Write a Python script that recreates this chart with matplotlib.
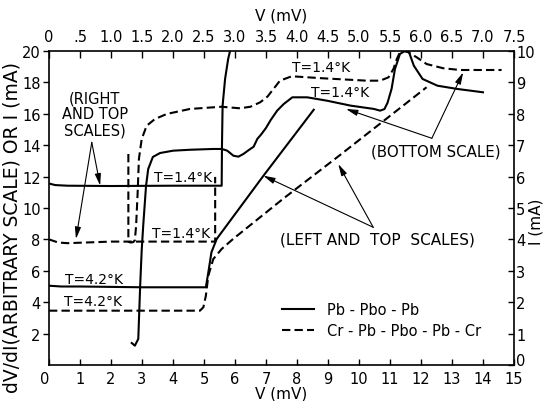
import matplotlib.pyplot as plt
from matplotlib.lines import Line2D

# dV/dI curves at T=1.4 K  (bottom scale, mV  /  left scale, arbitrary)
pb_v = [2.67, 2.77, 2.88, 2.94, 2.99, 3.04, 3.13, 3.20, 3.35, 3.58, 4.00,
        4.55, 5.30, 5.58, 5.75, 5.95, 6.11, 6.27, 6.45, 6.60, 6.72, 6.85,
        7.00, 7.15, 7.36, 7.57, 7.85, 8.33, 8.98, 9.73, 10.48, 10.68, 10.82,
        10.92, 11.05, 11.16, 11.32, 11.48, 11.61, 11.77, 12.05, 12.53, 13.18,
        14.0]
pb_dvdi = [1.40, 1.23, 1.66, 5.0, 7.3, 8.9, 11.4, 12.48, 13.25, 13.5, 13.65,
           13.71, 13.76, 13.76, 13.65, 13.33, 13.27, 13.44, 13.7, 13.9, 14.4,
           14.7, 15.1, 15.6, 16.2, 16.62, 17.05, 17.05, 16.83, 16.52, 16.31,
           16.20, 16.3, 16.7, 17.58, 18.85, 19.81, 20.0, 19.94, 19.06, 18.22,
           17.79, 17.58, 17.37]

cr_v = [2.56, 2.56, 2.64, 2.72, 2.77, 2.81, 2.86, 2.90, 2.99, 3.15, 3.42,
        3.80, 4.55, 5.57, 6.16, 6.50, 6.81, 7.05, 7.24, 7.45, 7.83, 8.85,
        10.25, 10.68, 10.95, 11.11, 11.22, 11.32, 11.45, 11.59, 11.86, 12.18,
        12.72, 13.26, 14.6]
cr_dvdi = [13.44, 7.85, 7.80, 7.83, 7.95, 8.87, 11.0, 13.12, 14.39, 15.24,
           15.67, 15.99, 16.31, 16.45, 16.35, 16.45, 16.73, 17.1, 17.58, 18.11,
           18.39, 18.26, 18.11, 18.11, 18.32, 18.85, 19.49, 19.92, 20.0, 19.92,
           19.6, 19.17, 18.90, 18.79, 18.79]

# I-V curves at T=1.4 K  (top scale, mV  /  right scale, mA)
pb_iv14_v = [0.0, 0.1, 0.3, 1.0, 2.0, 2.785, 2.79, 2.80, 2.84, 2.89, 2.92]
pb_iv14_i = [5.78, 5.73, 5.71, 5.70, 5.71, 5.71, 7.0, 8.26, 9.11, 9.75, 10.0]

cr_iv14_v = [0.0, 0.15, 0.3, 1.0, 2.0, 2.68, 2.68]
cr_iv14_i = [4.0, 3.9, 3.88, 3.93, 3.93, 3.93, 5.99]

# I-V curves at T=4.2 K  (top scale, mV  /  left scale, mA)
pb_iv42_v = [0.0, 0.2, 0.5, 1.5, 2.53, 2.57, 2.62, 2.705, 3.46, 4.27]
pb_iv42_i = [5.05, 5.0, 5.0, 4.95, 4.95, 5.9, 7.18, 8.03, 12.06, 16.26]

cr_iv42_v = [0.0, 1.0, 2.0, 2.435, 2.49, 2.53, 2.57, 2.65, 2.785, 2.97,
             3.78, 4.67, 6.09]
cr_iv42_i = [3.46, 3.46, 3.46, 3.46, 3.68, 4.41, 5.69, 6.75, 7.39, 8.03,
             10.6, 13.3, 17.69]

bottom_ticks = list(range(0, 16))
left_ticks = list(range(2, 21, 2))
right_ticks = list(range(0, 11))
top_ticks = [i * 0.5 for i in range(16)]
top_labels = ["0", ".5"] + ["%.1f" % t for t in top_ticks[2:]]

FS = 10.5
lw = 1.5
dash = (0, (4, 2))

fig = plt.figure(figsize=(5.43, 4.02), dpi=100)
rect = [49 / 543, 36 / 402, 465 / 543, 314 / 402]

ax = fig.add_axes(rect)                       # bottom / left
ax_tl = fig.add_axes(rect, frameon=False)     # top / left
ax_tr = fig.add_axes(rect, frameon=False)     # top / right

ax.set_xlim(0, 15)
ax.set_ylim(0, 20)
ax_tl.set_xlim(0, 7.5)
ax_tl.set_ylim(0, 20)
ax_tl.axis("off")
ax_tr.set_xlim(0, 7.5)
ax_tr.set_ylim(0, 10)
for a in (ax_tl, ax_tr):
    a.patch.set_alpha(0)

for s in ax.spines.values():
    s.set_linewidth(1.2)

ax.set_xticks(bottom_ticks)
ax.set_yticks(left_ticks)
ax.tick_params(axis="x", direction="in", length=4, width=1, pad=4,
               labelsize=FS, top=False)
ax.tick_params(axis="y", direction="out", length=4.5, width=1, pad=1.5,
               labelsize=FS, right=False)
ax.get_xticklabels()[0].set_ha("right")

ax_tr.xaxis.tick_top()
ax_tr.yaxis.tick_right()
ax_tr.set_xticks(top_ticks)
ax_tr.set_xticklabels(top_labels)
ax_tr.set_yticks(right_ticks)
ax_tr.tick_params(axis="x", direction="in", length=5, width=1, pad=5,
                  labelsize=FS)
ax_tr.tick_params(axis="y", direction="in", length=4.5, width=1, pad=1.5,
                  labelsize=FS)
ax_tr.get_yticklabels()[0].set_va("baseline")

ax.set_xlabel("V (mV)", fontsize=11, labelpad=0)
ax_tr.xaxis.set_label_position("top")
ax_tr.set_xlabel("V (mV)", fontsize=11, labelpad=7)
fig.text(12 / 543, 1 - 228 / 402, "dV/dI(ARBITRARY SCALE) OR I (mA)",
         rotation=90, ha="center", va="center", fontsize=13.5)
fig.text(536 / 543, 1 - 222 / 402, "I (mA)", rotation=90,
         ha="center", va="center", fontsize=11)

# curves
ax.plot(pb_v, pb_dvdi, color="black", lw=lw)
ax.plot(cr_v, cr_dvdi, color="black", lw=lw, ls=dash)
ax_tr.plot(pb_iv14_v, pb_iv14_i, color="black", lw=lw)
ax_tr.plot(cr_iv14_v, cr_iv14_i, color="black", lw=lw, ls=dash)
ax_tl.plot(pb_iv42_v, pb_iv42_i, color="black", lw=lw)
ax_tl.plot(cr_iv42_v, cr_iv42_i, color="black", lw=lw, ls=dash)

# temperature labels
tk = dict(ha="center", va="center", fontsize=10)
ax.text(8.77, 18.98, "T=1.4°K", **tk)
ax.text(9.39, 17.39, "T=1.4°K", **tk)
ax.text(4.31, 11.97, "T=1.4°K", **tk)
ax.text(4.26, 8.41, "T=1.4°K", **tk)
ax.text(1.45, 5.48, "T=4.2°K", **tk)
ax.text(1.42, 4.08, "T=4.2°K", **tk)

# scale notes with arrows
arr = dict(arrowstyle="-|>,head_length=0.7,head_width=0.18", color="black",
           lw=0.8, shrinkA=0, shrinkB=0)
ax.text(1.48, 15.99, "(RIGHT\nAND TOP\nSCALES)", ha="center", va="center",
        fontsize=10.5, linespacing=1.1)
for head in [(1.65, 11.43), (0.87, 8.03)]:
    ax.annotate("", xy=head, xytext=(1.38, 14.18), arrowprops=arr)

ax.text(12.48, 13.63, "(BOTTOM SCALE)", ha="center", va="center",
        fontsize=10.8)
for head in [(9.58, 16.31), (13.36, 18.64)]:
    ax.annotate("", xy=head, xytext=(12.35, 14.44), arrowprops=arr)

ax.text(10.6, 8.03, "(LEFT AND  TOP  SCALES)", ha="center", va="center",
        fontsize=11)
for head in [(6.91, 12.06), (9.33, 12.80)]:
    ax.annotate("", xy=head, xytext=(10.46, 8.77), arrowprops=arr)

handles = [Line2D([], [], color="black", lw=lw),
           Line2D([], [], color="black", lw=lw, ls=dash)]
ax.legend(handles, ["Pb - Pbo - Pb", "Cr - Pb - Pbo - Pb - Cr"],
          loc="upper left", bbox_to_anchor=(0.5, 0.2), frameon=False,
          fontsize=10.5, handlelength=2.2, handletextpad=0.9,
          labelspacing=0.4, borderpad=0, borderaxespad=0)

fig.savefig("out.png", dpi=100)
